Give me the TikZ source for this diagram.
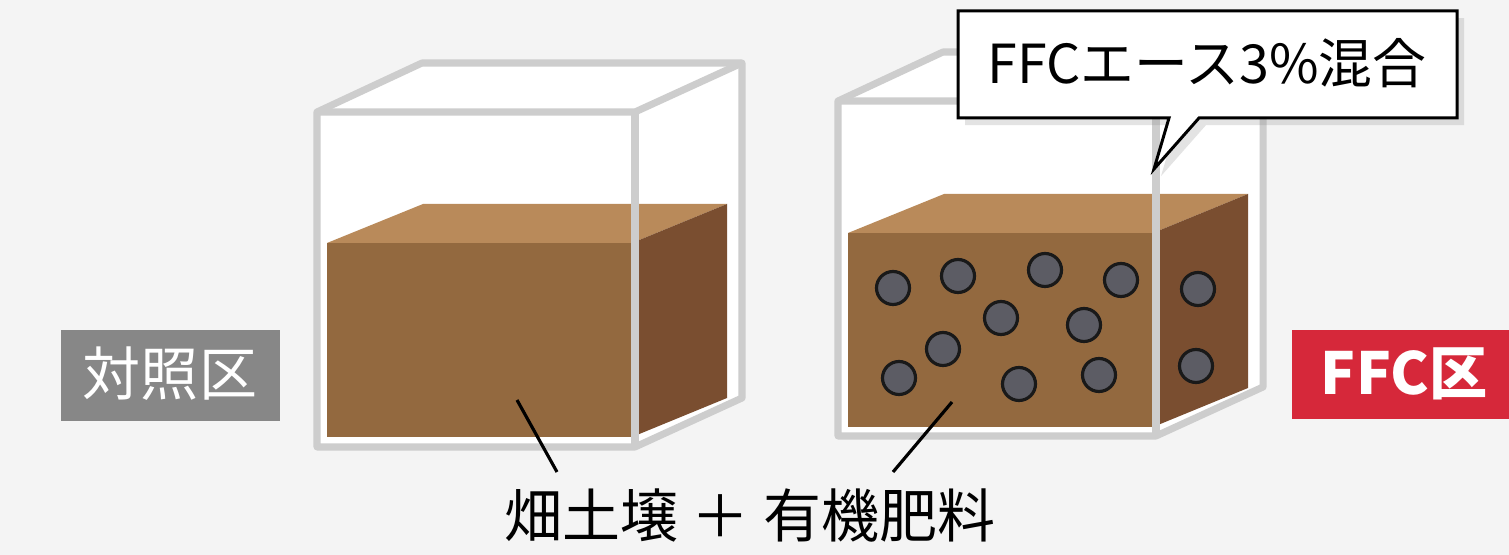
\documentclass[tikz,border=0pt]{standalone}
\usepackage{fontspec}
\setmainfont{Noto Sans CJK JP}
\usetikzlibrary{shadows}
\definecolor{bg}{HTML}{F4F4F4}
\definecolor{glass}{HTML}{CDCDCD}
\definecolor{soilfront}{HTML}{93693F}
\definecolor{soiltop}{HTML}{B98A5A}
\definecolor{soilside}{HTML}{7A4E30}
\definecolor{pellet}{HTML}{5C5C64}
\definecolor{tagGray}{HTML}{878787}
\definecolor{tagRed}{HTML}{D6283A}
\tikzset{
  glassline/.style={draw=glass, line width=2pt, line join=round},
  pelletdot/.style={circle, draw=black!90, line width=0.9pt, fill=pellet, minimum size=0.33cm, inner sep=0pt},
  tag/.style={text=white, font=\fontsize{16.5}{18}\selectfont},
  leader/.style={draw=black, line width=0.9pt},
  labeltext/.style={font=\fontsize{16.5}{18}\selectfont, text=black},
}
% one container: glass box with a block of soil inside
\newcommand{\soilbox}[2]{%
  \begin{scope}[shift={(#1,#2)}]
    % white interior of the glass
    \fill[white] (317,447) -- (317,112) -- (422,63) -- (742,63) -- (742,398) -- (635,447) -- cycle;
    % soil block
    \fill[soiltop] (327,243) -- (423,204) -- (727,204) -- (632,243) -- cycle;
    \fill[soilside] (632,243) -- (727,204) -- (727,398) -- (632,437) -- cycle;
    \fill[soilfront] (327,243) rectangle (632,437);
  \end{scope}}
\newcommand{\glassbox}[2]{%
  \begin{scope}[shift={(#1,#2)}]
    \draw[glassline] (317,447) -- (317,112) -- (422,63) -- (742,63) -- (742,398) -- (635,447) -- cycle;
    \draw[glassline] (317,112) -- (635,112) -- (742,63);
    \draw[glassline] (635,112) -- (635,447);
  \end{scope}}
\begin{document}
\begin{tikzpicture}[x=0.01cm, y=-0.01cm]
  \fill[bg] (0,0) rectangle (1509,555);
  \useasboundingbox (0,0) rectangle (1509,555);

  % control plot (left) and treated plot (right)
  \soilbox{0}{0}
  \soilbox{521}{-10}

  % fertilizer pellets on the front face
  \foreach \i/\px/\py in {p1/893/288, p2/958/276, p3/1045/270, p4/1121/280, p5/1001/318,
                          p6/1084/325, p7/943/349, p8/899/378, p9/1019/384, p10/1099/375,
                          p11/1198/289, p12/1196/366}
    \node[pelletdot] (\i) at (\px,\py) {};

  \glassbox{0}{0}
  \glassbox{521}{-11}

  % plot tags
  \fill[tagGray] (61,330) rectangle (280,421);
  \node[tag] (ctrl) at (170,374) {対照区};
  \fill[tagRed] (1292,330) rectangle (1509,419);
  \node[tag, font=\fontsize{16.5}{18}\selectfont\bfseries] (ffc) at (1404,374) {FFC区};

  % callout
  \draw[black, line width=0.85pt, fill=white, line join=miter,
        drop shadow={opacity=0.22, shadow xshift=2pt, shadow yshift=-2pt}]
    (958,11) -- (1457,11) -- (1457,118) -- (1199,118) -- (1154,169) -- (1169,118) -- (958,118) -- cycle;
  \node[labeltext, font=\fontsize{15.3}{17}\selectfont] (mix) at (1207,63) {FFCエース3\%混合};

  % soil description with leader lines
  \node[labeltext] (soil) at (750,516) {畑土壌 ＋ 有機肥料};
  \coordinate (leftsoil) at (517,400);
  \coordinate (leftend) at (557,472);
  \coordinate (rightsoil) at (952,402);
  \coordinate (rightend) at (893,472);
  \draw[leader] (leftsoil) -- (leftend);
  \draw[leader] (rightsoil) -- (rightend);
\end{tikzpicture}
\end{document}
